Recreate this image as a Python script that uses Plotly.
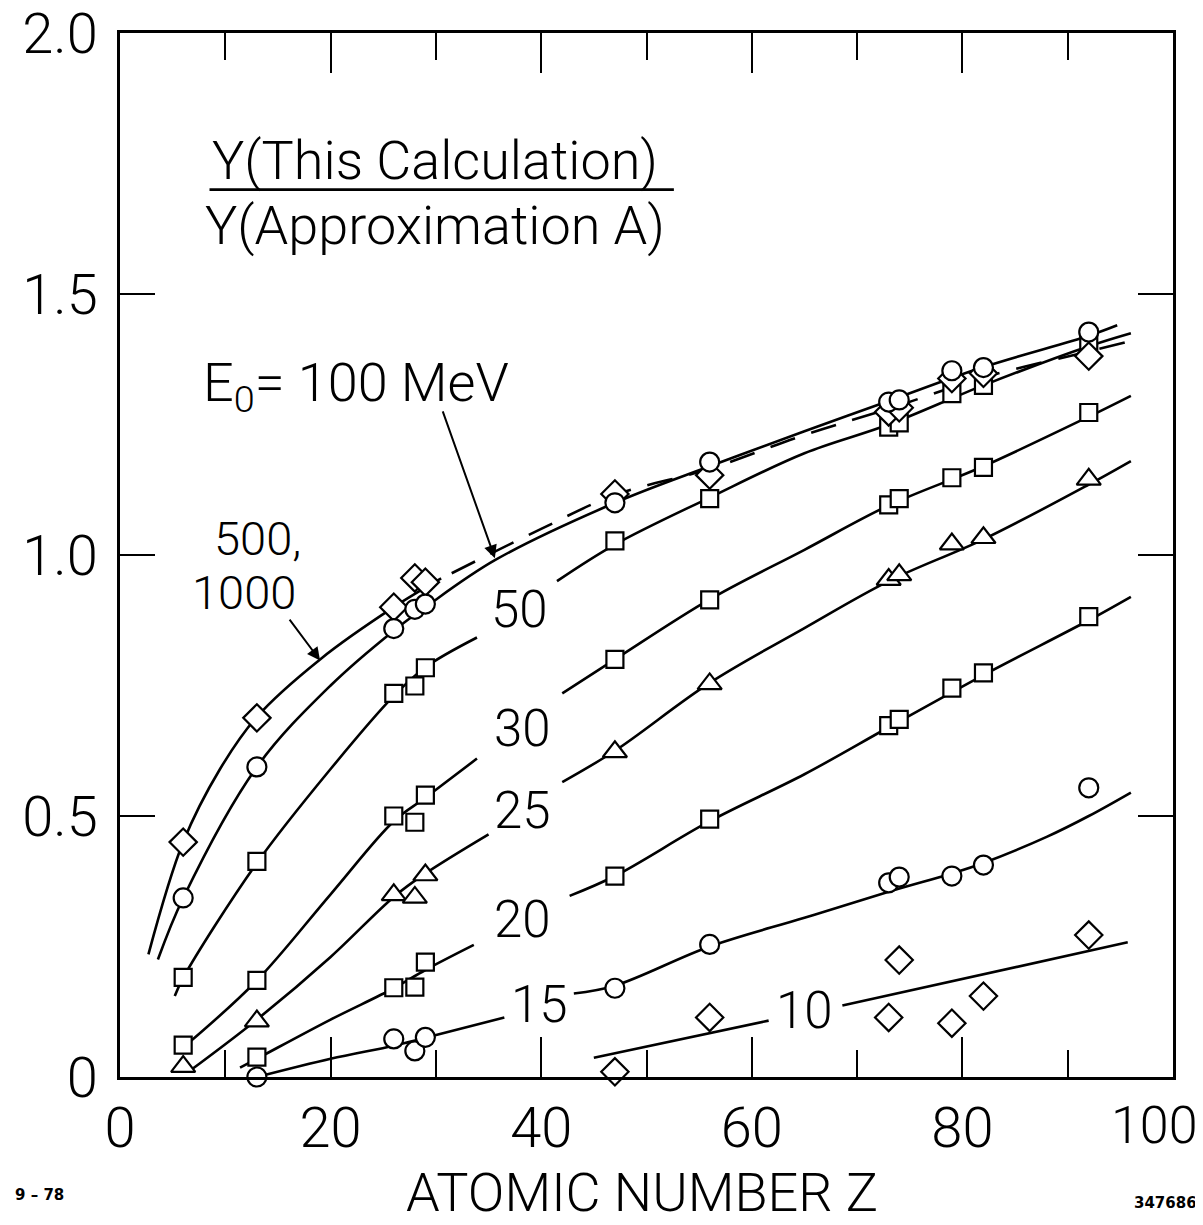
import plotly.graph_objects as go

# ---------------- data ----------------
Z_ALL = [6, 13, 26, 28, 29, 47, 56, 73, 74, 79, 82, 92]
Z_20_15 = [13, 26, 28, 29, 47, 56, 73, 74, 79, 82, 92]
Z_10 = [47, 56, 73, 74, 79, 82, 92]

pts_500_1000 = [0.45, 0.688, 0.90, 0.956, 0.948, 1.117, 1.153, 1.274, 1.282, 1.338, 1.348, 1.381]
pts_100 = [0.343, 0.594, 0.859, 0.896, 0.906, 1.10, 1.178, 1.293, 1.297, 1.353, 1.359, 1.427]
pts_50 = [0.191, 0.413, 0.735, 0.749, 0.784, 1.027, 1.108, 1.245, 1.253, 1.309, 1.325, 1.41]
pts_30 = [0.061, 0.185, 0.50, 0.488, 0.54, 0.80, 0.914, 1.096, 1.108, 1.148, 1.168, 1.273]
pts_25 = [0.02, 0.107, 0.349, 0.344, 0.387, 0.623, 0.753, 0.953, 0.962, 1.021, 1.033, 1.145]
pts_20 = [0.038, 0.171, 0.172, 0.22, 0.385, 0.494, 0.673, 0.685, 0.745, 0.774, 0.882]
pts_15 = [0.0, 0.073, 0.05, 0.076, 0.17, 0.254, 0.372, 0.383, 0.385, 0.406, 0.554]
pts_10 = [0.01, 0.114, 0.114, 0.224, 0.103, 0.155, 0.272]

# fitted curves; segments are broken for labels
curve_hi_solid_z = [2.7, 6, 9.5, 13, 19, 26, 30.5]
curve_hi_solid_y = [0.235, 0.45, 0.59, 0.69, 0.80, 0.90, 0.955]
curve_hi_dash_z = [31.5, 40, 47, 56, 65, 73, 82, 92, 96]
curve_hi_dash_y = [0.965, 1.05, 1.115, 1.165, 1.23, 1.28, 1.34, 1.39, 1.41]
curve_100_z = [3.6, 6, 13, 20, 26, 29, 35.6, 47, 56, 65, 73, 82, 92, 94.7]
curve_100_y = [0.225, 0.343, 0.594, 0.75, 0.855, 0.90, 0.99, 1.10, 1.17, 1.237, 1.295, 1.36, 1.42, 1.44]
curve_50a_z = [5.2, 6, 13, 20, 26, 29, 33.9]
curve_50a_y = [0.155, 0.19, 0.41, 0.59, 0.73, 0.785, 0.842]
curve_50b_z = [41.5, 47, 56, 65, 73, 82, 92, 96]
curve_50b_y = [0.95, 1.02, 1.11, 1.195, 1.25, 1.325, 1.40, 1.425]
curve_30a_z = [6.5, 13, 20, 26, 29, 33.9]
curve_30a_y = [0.065, 0.185, 0.35, 0.49, 0.535, 0.61]
curve_30b_z = [42, 47, 56, 65, 73, 82, 92, 96]
curve_30b_y = [0.735, 0.80, 0.915, 1.01, 1.095, 1.17, 1.265, 1.305]
curve_25a_z = [6.5, 13, 20, 26, 29, 35]
curve_25a_y = [0.01, 0.11, 0.23, 0.345, 0.39, 0.465]
curve_25b_z = [42, 47, 56, 65, 73, 82, 92, 96]
curve_25b_y = [0.565, 0.625, 0.755, 0.86, 0.95, 1.03, 1.135, 1.18]
curve_20a_z = [11.4, 13, 20, 26, 29, 33.6]
curve_20a_y = [0.018, 0.035, 0.11, 0.17, 0.205, 0.253]
curve_20b_z = [42.7, 47, 56, 65, 73, 82, 92, 96]
curve_20b_y = [0.347, 0.385, 0.49, 0.58, 0.67, 0.77, 0.875, 0.92]
curve_15a_z = [13, 20, 26, 29, 36.5]
curve_15a_y = [0.0, 0.035, 0.06, 0.075, 0.114]
curve_15b_z = [43.1, 47, 56, 65, 73, 79, 82, 88, 92, 96]
curve_15b_y = [0.16, 0.175, 0.25, 0.305, 0.355, 0.39, 0.41, 0.46, 0.50, 0.545]
curve_10a_z = [45, 61.6]
curve_10a_y = [0.037, 0.108]
curve_10b_z = [68.6, 95.7]
curve_10b_y = [0.137, 0.258]

x_tickvals = [0, 20, 40, 60, 80]
x_ticktext = ["0", "20", "40", "60", "80"]
x_last_tick = 100
x_last_text = "100"
y_tickvals = [0, 0.5, 1.0, 1.5, 2.0]
y_ticktext = ["0", "0.5", "1.0", "1.5", "2.0"]

# ---------------- figure ----------------
FONT = "Roboto, DejaVu Sans, sans-serif"
INK = "black"
fig = go.Figure()

def curve(z, y, dash="solid"):
    fig.add_trace(go.Scatter(x=z, y=y, mode="lines", line=dict(color=INK, width=2.6, dash=dash, shape="spline"),
                             showlegend=False, hoverinfo="skip", cliponaxis=False))

for z, y in [(curve_hi_solid_z, curve_hi_solid_y), (curve_100_z, curve_100_y),
             (curve_50a_z, curve_50a_y), (curve_50b_z, curve_50b_y),
             (curve_30a_z, curve_30a_y), (curve_30b_z, curve_30b_y),
             (curve_25a_z, curve_25a_y), (curve_25b_z, curve_25b_y),
             (curve_20a_z, curve_20a_y), (curve_20b_z, curve_20b_y),
             (curve_15a_z, curve_15a_y), (curve_15b_z, curve_15b_y),
             (curve_10a_z, curve_10a_y), (curve_10b_z, curve_10b_y)]:
    curve(z, y)
curve(curve_hi_dash_z, curve_hi_dash_y, dash="26px,17px")

def pts(z, y, symbol, size):
    fig.add_trace(go.Scatter(x=z, y=y, mode="markers",
                             marker=dict(symbol=symbol, size=size, color="white",
                                         line=dict(color=INK, width=2.2)),
                             showlegend=False, hoverinfo="skip", cliponaxis=False))

pts(Z_ALL, pts_50, "square", 17)
pts(Z_ALL, pts_30, "square", 17)
pts(Z_20_15, pts_20, "square", 17)
pts(Z_ALL, pts_25, "triangle-up", 21)
pts(Z_ALL, pts_500_1000, "diamond", 21)
pts(Z_10, pts_10, "diamond", 21)
pts(Z_ALL, pts_100, "circle", 19)
pts(Z_20_15, pts_15, "circle", 19)

ann = []
def label(x, y, text, size=51):
    ann.append(dict(x=x, y=y, xref="x", yref="y", text=text, showarrow=False,
                    font=dict(family=FONT, size=size, color=INK, weight=300)))

label(29.9, 1.755, "Y(This Calculation)", 54)
label(29.9, 1.632, "Y(Approximation A)", 54)
label(22.4, 1.324, "E<sub>0</sub>= 100 MeV", 54)
label(13.1, 1.031, "500,", 47)
label(11.8, 0.928, "1000", 47)
label(37.9, 0.896, "50", 51)
label(38.2, 0.668, "30", 51)
label(38.2, 0.511, "25", 51)
label(38.2, 0.302, "20", 51)
label(39.8, 0.139, "15", 51)
label(65.0, 0.128, "10", 51)

# arrows
ann.append(dict(x=35.6, y=0.994, ax=30.6, ay=1.278, xref="x", yref="y", axref="x", ayref="y",
                text="", showarrow=True, arrowhead=2, arrowsize=1.3, arrowwidth=2, arrowcolor=INK))
ann.append(dict(x=19.0, y=0.798, ax=16.0, ay=0.879, xref="x", yref="y", axref="x", ayref="y",
                text="", showarrow=True, arrowhead=2, arrowsize=1.3, arrowwidth=2, arrowcolor=INK))

# last x tick label (kept inside the page)
ann.append(dict(x=x_last_tick, y=0, xref="x", yref="paper", yanchor="top", xanchor="right",
                yshift=-16, xshift=27, showarrow=False, text=x_last_text,
                font=dict(family=FONT, size=52, color=INK, weight=300)))

# x axis title
ann.append(dict(x=0.496, y=-0.111, xref="paper", yref="paper", text="ATOMIC NUMBER Z", showarrow=False,
                xanchor="center", yanchor="middle",
                font=dict(family=FONT, size=54, color=INK, weight=300)))

# footer texts
ann.append(dict(x=-0.076, y=-0.113, xref="paper", yref="paper", text="<b>9 – 78</b>", showarrow=False,
                xanchor="center", yanchor="middle",
                font=dict(family="DejaVu Sans", size=15, color=INK)))
ann.append(dict(x=0.993, y=-0.121, xref="paper", yref="paper", text="<b>347686</b>", showarrow=False,
                xanchor="center", yanchor="middle",
                font=dict(family="DejaVu Sans", size=15, color=INK)))

shapes = [dict(type="line", xref="x", yref="y", x0=8.5, x1=52.6, y0=1.70, y1=1.70,
               line=dict(color=INK, width=2.6))]

axis_common = dict(showgrid=False, zeroline=False, showline=True, linecolor=INK, linewidth=3,
                   mirror="allticks", ticks="inside", tickcolor=INK, tickwidth=2.2,
                   automargin=False, ticklabeloverflow="allow",
                   tickfont=dict(family=FONT, size=56, color=INK, weight=300))

# the page body adds an 8px offset; size/margins compensate so the frame sits at 120..1173 x 33..1077
fig.update_layout(
    width=1195, height=1217,
    margin=dict(l=112, r=30, t=25, b=148),
    paper_bgcolor="white", plot_bgcolor="white",
    showlegend=False,
    annotations=ann, shapes=shapes,
    xaxis=dict(range=[0, 100], tickvals=x_tickvals, ticktext=x_ticktext, ticklen=40,
               ticklabelstandoff=0,
               minor=dict(dtick=10, tick0=0, ticklen=27, tickwidth=2.2, tickcolor=INK, ticks="inside"),
               **axis_common),
    yaxis=dict(range=[0, 2.0], tickvals=y_tickvals, ticktext=y_ticktext, ticklen=35,
               ticklabelstandoff=8,
               **axis_common),
)

fig.write_html("out.html")
